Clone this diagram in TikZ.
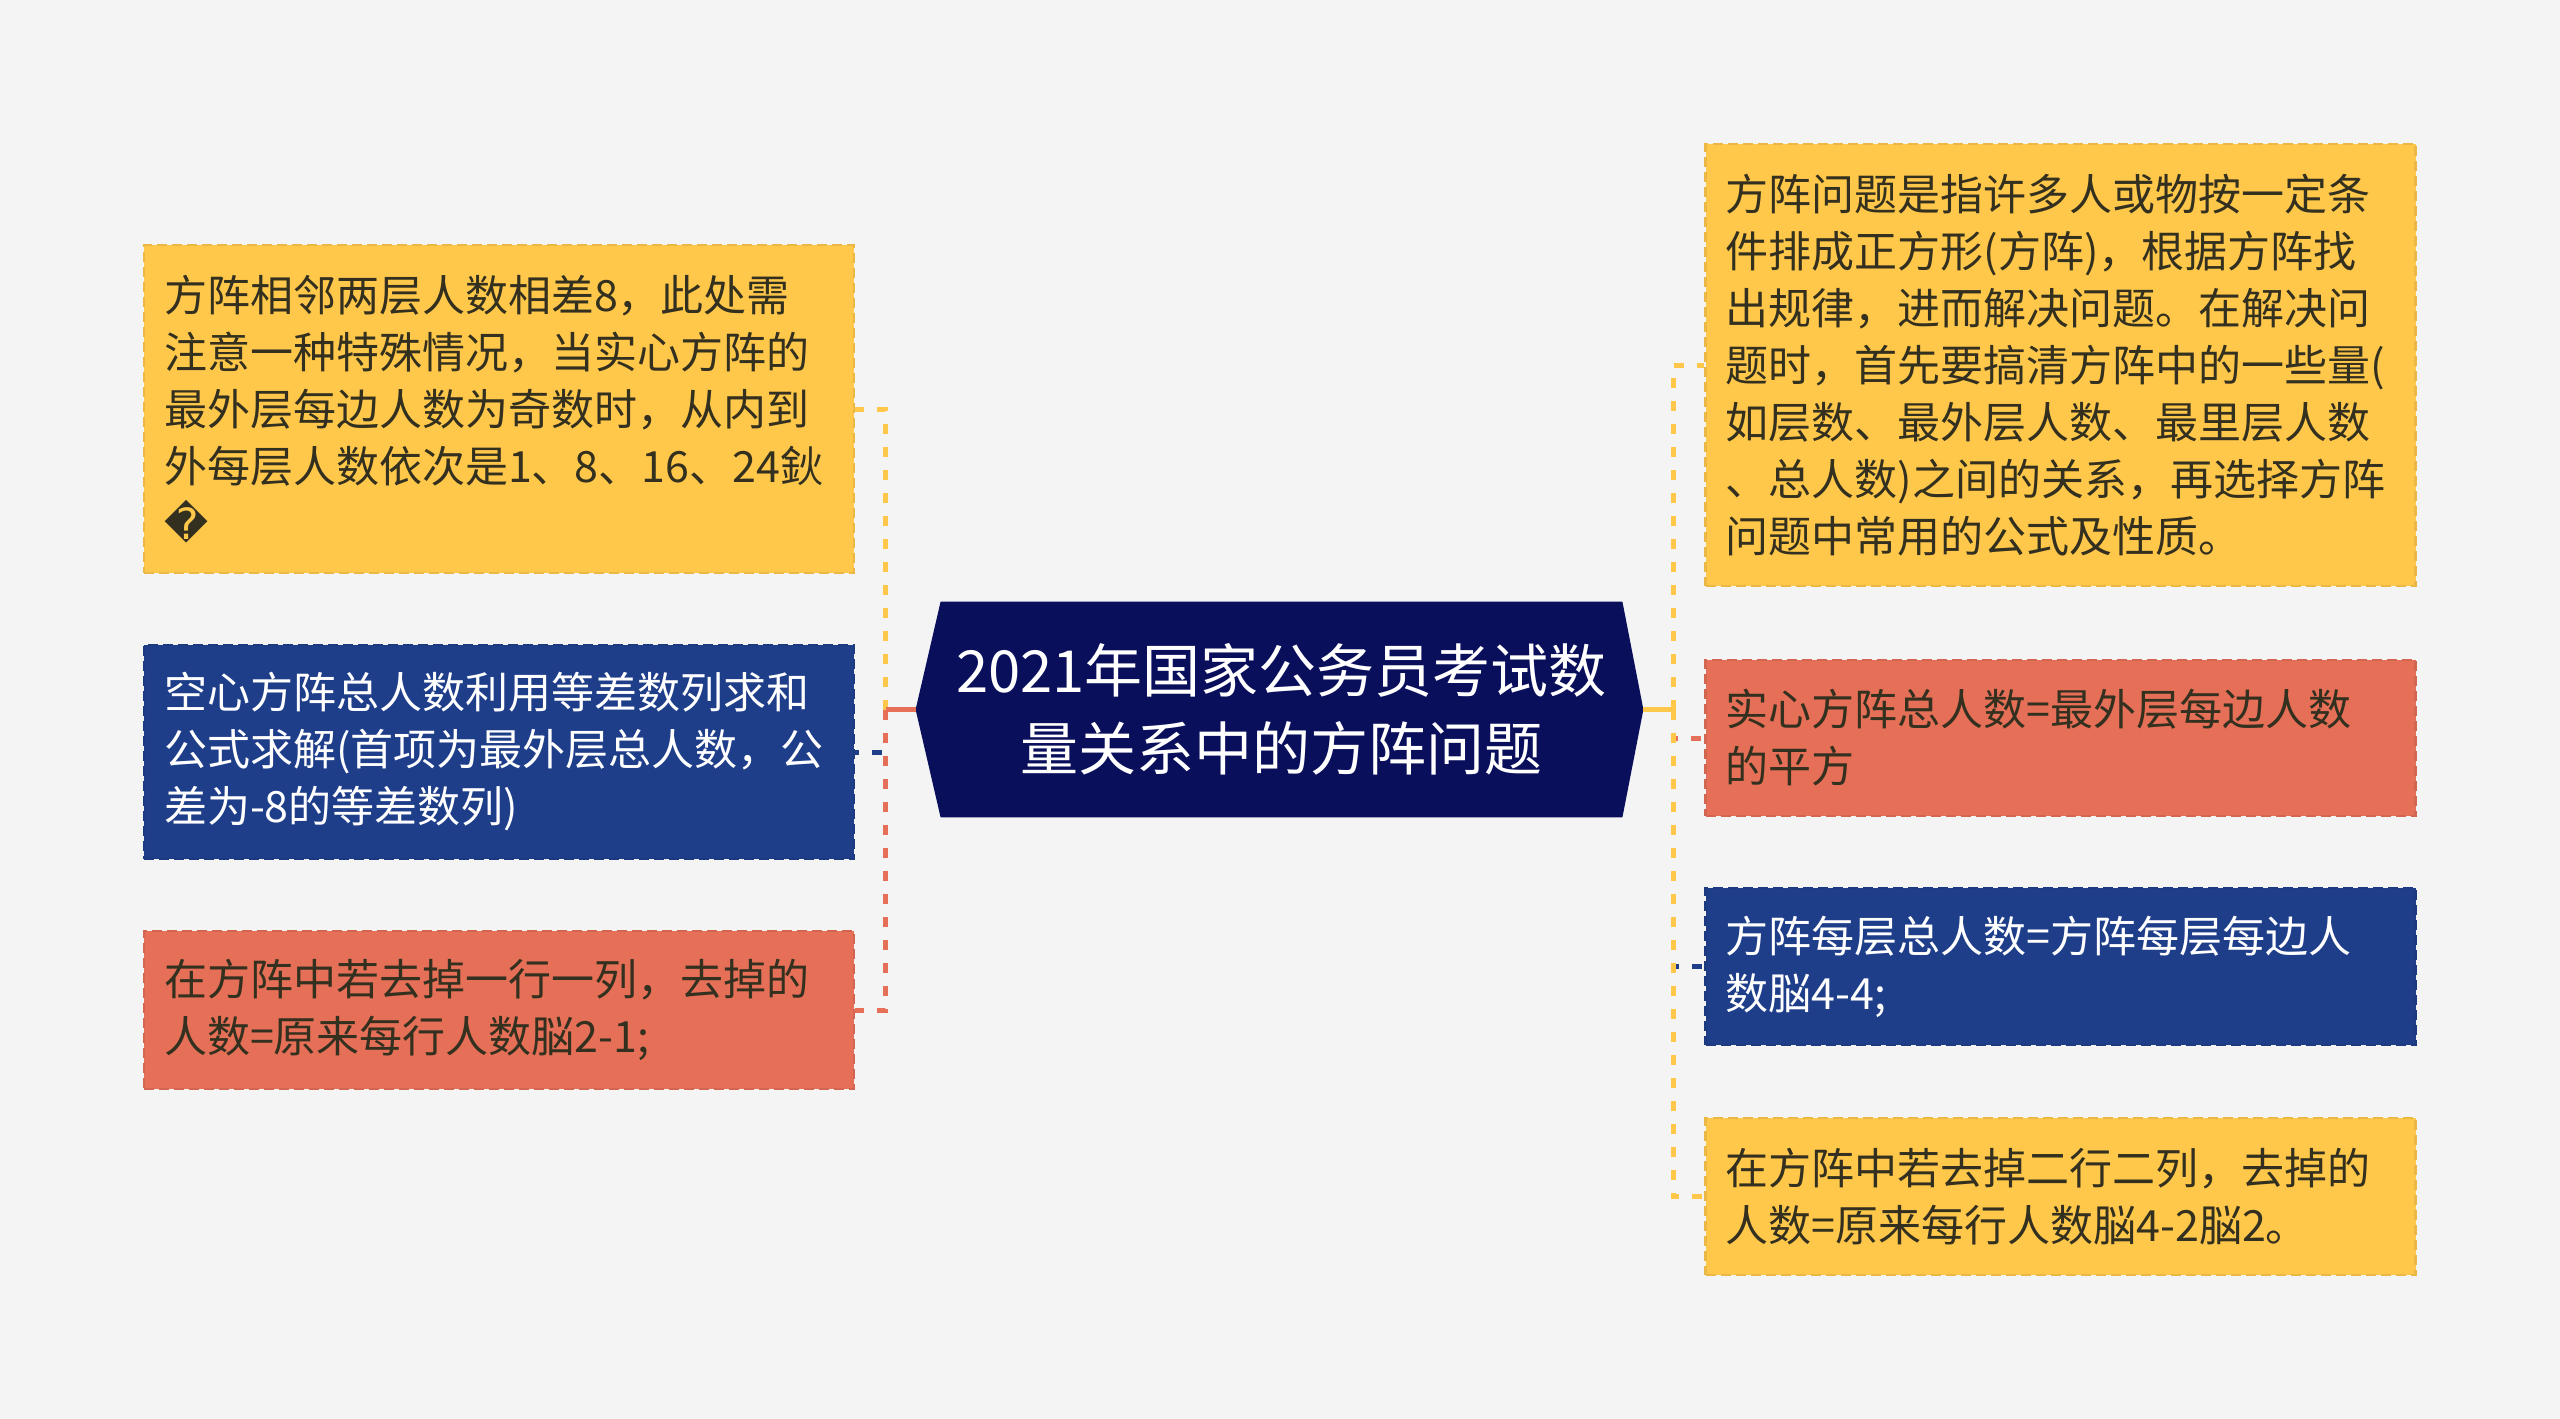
\documentclass[tikz,border=0pt]{standalone}
\usepackage{fontspec}
\newfontfamily\cjk{Noto Sans CJK SC}
\newfontfamily\dejavu{DejaVu Sans}
\usetikzlibrary{backgrounds}
\definecolor{bgc}{HTML}{F4F4F4}
\definecolor{myyellow}{HTML}{FFC84B}
\definecolor{myred}{HTML}{E56F57}
\definecolor{myblue}{HTML}{1F3E8A}
\definecolor{mynavy}{HTML}{0A0F5C}
\definecolor{darktext}{HTML}{33301F}
\begin{document}
\begin{tikzpicture}[x=0.5pt,y=-0.5pt,
  box/.style={fill=#1, draw=#1!92!black, dash pattern=on 5pt off 2.5pt, line width=1.2pt,
    text width=335pt, inner xsep=10pt, inner ysep=0pt, align=left,
    font=\cjk\fontsize{21.5pt}{28.5pt}\selectfont, text=darktext},
  conn/.style={line width=2.5pt, dash pattern=on 5pt off 6.5pt},
  trunk/.style={line width=2.5pt},
  title/.style={font=\cjk\fontsize{29pt}{39pt}\selectfont, text=white, align=center,
    minimum width=340.5pt, minimum height=107.5pt, inner sep=0pt}]
\useasboundingbox (0,0) rectangle (2560,1419);

\node[title] (c) at (1281.5,709.5) {2021年国家公务员考试数\\量关系中的方阵问题};
\coordinate (cl) at ([xshift=-12.5pt]c.west);
\coordinate (cr) at ([xshift=10.5pt]c.east);

\begin{pgfonlayer}{background}
\fill[bgc] (0,0) rectangle (2560,1419);
\fill[mynavy] (c.north west) -- (c.north east) -- (cr) -- (c.south east) -- (c.south west) -- (cl) -- cycle;
\end{pgfonlayer}

% left children
\node[box=myyellow, minimum height=164pt] (L1) at (499,409) {方阵相邻两层人数相差8，此处需\\注意一种特殊情况，当实心方阵的\\最外层每边人数为奇数时，从内到\\外每层人数依次是1、8、16、24鈥\\{\dejavu �}};
\node[box=myblue, text=white, minimum height=107pt] (L2) at (499,752) {空心方阵总人数利用等差数列求和\\公式求解(首项为最外层总人数，公\\差为-8的等差数列)};
\node[box=myred, minimum height=79pt] (L3) at (499,1010) {在方阵中若去掉一行一列，去掉的\\人数=原来每行人数脳2-1;};

% right children
\node[box=myyellow, minimum height=221pt] (R1) at (2060.5,365) {方阵问题是指许多人或物按一定条\\件排成正方形(方阵)，根据方阵找\\出规律，进而解决问题。在解决问\\题时，首先要搞清方阵中的一些量(\\如层数、最外层人数、最里层人数\\、总人数)之间的关系，再选择方阵\\问题中常用的公式及性质。};
\node[box=myred, minimum height=78pt] (R2) at (2060.5,738) {实心方阵总人数=最外层每边人数\\的平方};
\node[box=myblue, text=white, minimum height=78.5pt] (R3) at (2060.5,966.5) {方阵每层总人数=方阵每层每边人\\数脳4-4;};
\node[box=myyellow, minimum height=78.5pt] (R4) at (2060.5,1196.5) {在方阵中若去掉二行二列，去掉的\\人数=原来每行人数脳4-2脳2。};

% connectors left
\coordinate (jl) at ([xshift=-15pt]cl);
\coordinate (jr) at ([xshift=15pt]cr);
\draw[trunk, myyellow] (cl) -- (jl);
\draw[conn, myyellow] (jl) |- (L1.east);
\draw[trunk, myblue] (cl) -- (jl);
\draw[conn, myblue] (jl) |- (L2.east);
\draw[trunk, myred] (cl) -- (jl);
\draw[conn, myred] (jl) |- (L3.east);

% connectors right
\draw[trunk, myyellow] (cr) -- (jr);
\draw[conn, myyellow] (jr) |- (R1.west);
\draw[trunk, myred] (cr) -- (jr);
\draw[conn, myred] (jr) |- (R2.west);
\draw[trunk, myblue] (cr) -- (jr);
\draw[conn, myblue] (jr) |- (R3.west);
\draw[trunk, myyellow] (cr) -- (jr);
\draw[conn, myyellow] (jr) |- (R4.west);
\end{tikzpicture}
\end{document}
